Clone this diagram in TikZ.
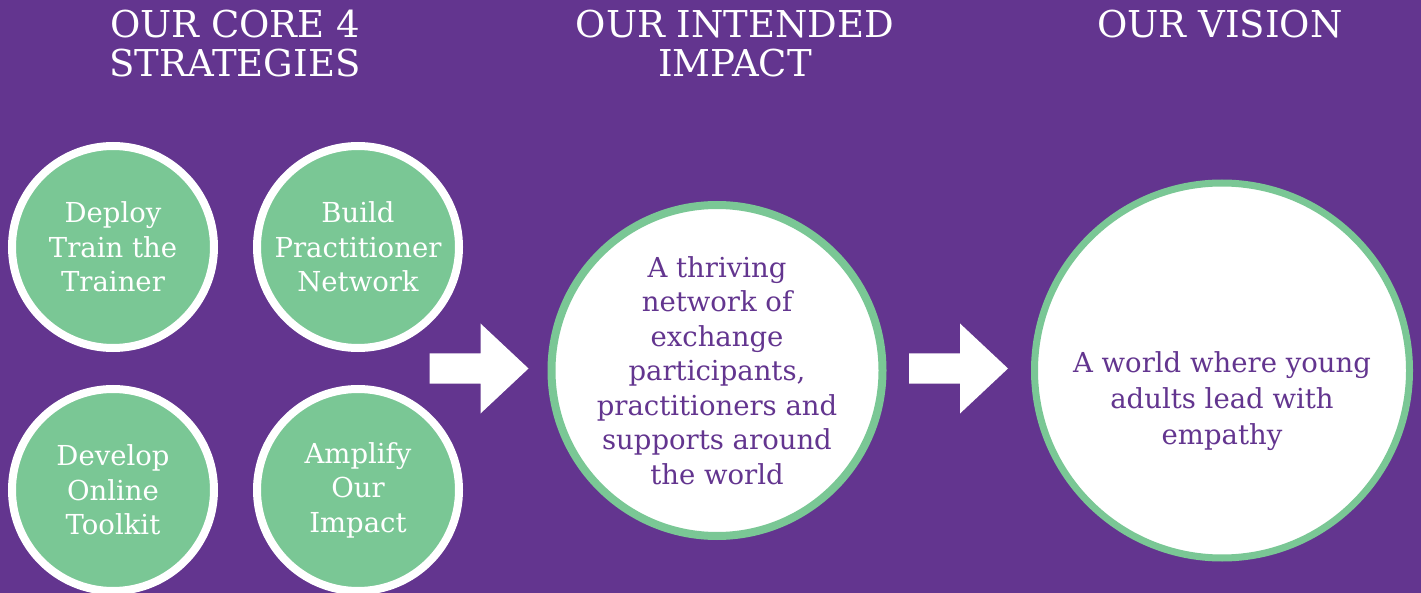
\documentclass[tikz,border=0pt]{standalone}
\usepackage{fontspec}
\setmainfont{DejaVu Serif}
\begin{document}
\begin{tikzpicture}[x=1pt,y=-1pt,
	strat/.style={circle,fill=leafgreen,draw=white,line width=8pt,minimum size=202pt,inner sep=0pt,text=white,align=center,font=\fontsize{27.5}{34.5}\selectfont},
	goal/.style={circle,fill=white,draw=leafgreen,line width=8pt,inner sep=0pt,text=plum,align=center,font=\fontsize{27.5}{34.5}\selectfont},
	heading/.style={text=white,align=center,anchor=base,font=\fontsize{37}{39}\selectfont}]
				\definecolor{plum}{RGB}{99,53,143}
				\definecolor{leafgreen}{RGB}{122,199,149}
				\useasboundingbox (0,0) rectangle (1421,593);
				\clip (0,0) rectangle (1421,593);
				\fill[plum] (0,0) rectangle (1421,593);
				% headings (base = last line)
				\node[heading] (hcore) at (235,77) {OUR CORE 4\\STRATEGIES};
				\node[heading] (himpact) at (735,77) {OUR INTENDED\\IMPACT};
				\node[heading] (hvision) at (1220,38) {OUR VISION};
				% four strategies
				\foreach \n/\x/\y/\t in {deploy/113/247/{Deploy\\Train the\\Trainer},build/358/247/{Build\\Practitioner\\Network},
					develop/113/490/{Develop\\Online\\Toolkit},amplify/358/490/{Amplify\\Our\\Impact}}
					{\node[strat] (\n) at (\x,\y) {\t};}
				% impact and vision
				\node[goal,minimum size=325pt] (impact) at (717,370.5) {A thriving\\network of\\exchange\\participants,\\practitioners and\\supports around\\the world};
				\node[goal,minimum size=375pt,line width=7pt] (vision) at (1222,370.5) {};
				\node[text=plum,align=center,font=\fontsize{27.5}{36}\selectfont] (visiontext) at ([yshift=-31pt]vision.center) {A world where young\\adults lead with\\empathy};
				% block arrows
				\foreach \t/\s in {impact/19,vision/23}
					{\fill[white] ([xshift=-\s pt,yshift=2pt]\t.west) -- ++(-48,-45) -- ++(0,30) -- ++(-51,0) -- ++(0,30) -- ++(51,0) -- ++(0,30) -- cycle;}
			\end{tikzpicture}
\end{document}
